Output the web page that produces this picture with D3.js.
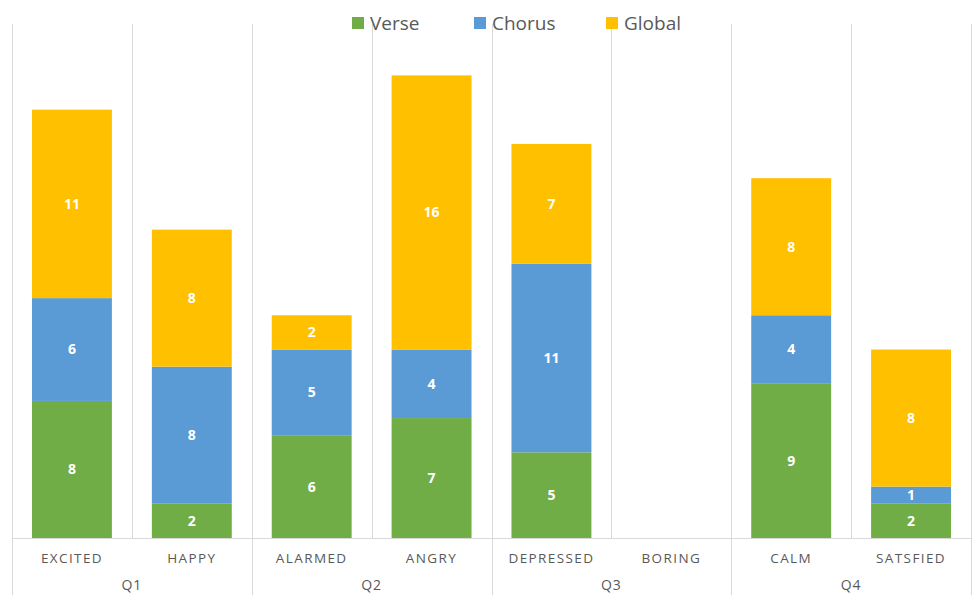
<!DOCTYPE html>
<html>
<head>
<meta charset="utf-8">
<script src="https://cdn.jsdelivr.net/npm/d3@7"></script>
<style>
  html, body { margin: 0; padding: 0; background: #fff; }
  svg { display: block; }
</style>
</head>
<body>
<svg id="chart" width="973" height="595"></svg>
<script>
// Emotion categories, grouped by quadrant
const categories = ["EXCITED", "HAPPY", "ALARMED", "ANGRY", "DEPRESSED", "BORING", "CALM", "SATSFIED"];
const quadrants = ["Q1", "Q1", "Q2", "Q2", "Q3", "Q3", "Q4", "Q4"];
const seriesNames = ["Verse", "Chorus", "Global"];
const verse  = [8, 2, 6, 7, 5, 0, 9, 2];
const chorus = [6, 8, 5, 4, 11, 0, 4, 1];
const globalVals = [11, 8, 2, 16, 7, 0, 8, 8];
const colors = ["#70AD47", "#5B9BD5", "#FFC000"];

const svg = d3.select("#chart");
const plotLeft = 12, plotRight = 971, plotTop = 24, plotBase = 538;

const x = d3.scaleBand().domain(categories).range([plotLeft, plotRight]).padding(0);
const y = d3.scaleLinear().domain([0, 30]).range([plotBase, plotTop]);
const barW = x.bandwidth() * 2 / 3;

const rows = categories.map((c, i) => ({ cat: c, Verse: verse[i], Chorus: chorus[i], Global: globalVals[i] }));
const stacked = d3.stack().keys(seriesNames)(rows);

const grid = "#D9D9D9";
const textCol = "#595959";
const font = "'Open Sans', 'Noto Sans', sans-serif";

// vertical gridlines at category boundaries
const bounds = categories.map(c => x(c)).concat([plotRight]);
svg.append("g").selectAll("line").data(bounds).join("line")
  .attr("x1", d => Math.round(d) + 0.5).attr("x2", d => Math.round(d) + 0.5)
  .attr("y1", plotTop).attr("y2", plotBase)
  .attr("stroke", grid).attr("stroke-width", 1);

// category axis line
svg.append("line")
  .attr("x1", plotLeft).attr("x2", plotRight)
  .attr("y1", plotBase + 0.5).attr("y2", plotBase + 0.5)
  .attr("stroke", grid);

// quadrant separators below the axis
const groupBounds = bounds.filter((d, i) => i % 2 === 0);
svg.append("g").selectAll("line").data(groupBounds).join("line")
  .attr("x1", d => Math.round(d) + 0.5).attr("x2", d => Math.round(d) + 0.5)
  .attr("y1", plotBase).attr("y2", 595)
  .attr("stroke", grid);

// bars
const layers = svg.append("g").selectAll("g").data(stacked).join("g")
  .attr("fill", (d, i) => colors[i]);
layers.selectAll("rect").data(d => d.map(v => ({ v, cat: v.data.cat }))).join("rect")
  .attr("x", d => x(d.cat) + (x.bandwidth() - barW) / 2)
  .attr("width", barW)
  .attr("y", d => y(d.v[1]))
  .attr("height", d => y(d.v[0]) - y(d.v[1]));

// value labels
layers.selectAll("text").data(d => d.map(v => ({ v, cat: v.data.cat, val: v[1] - v[0] })).filter(d => d.val > 0)).join("text")
  .attr("x", d => x(d.cat) + x.bandwidth() / 2)
  .attr("y", d => (y(d.v[0]) + y(d.v[1])) / 2)
  .attr("dy", "0.35em")
  .attr("text-anchor", "middle")
  .attr("fill", "#fff")
  .attr("font-family", font)
  .attr("font-weight", "bold")
  .attr("font-size", 14)
  .text(d => d.val);

// category labels
svg.append("g").selectAll("text").data(categories).join("text")
  .attr("x", d => x(d) + x.bandwidth() / 2)
  .attr("y", 563)
  .attr("text-anchor", "middle")
  .attr("fill", textCol)
  .attr("font-family", font)
  .attr("font-size", 13.5)
  .attr("letter-spacing", "1.4px")
  .text(d => d);

// quadrant labels
const qNames = Array.from(new Set(quadrants));
svg.append("g").selectAll("text").data(qNames).join("text")
  .attr("x", q => {
    const idx = quadrants.map((d, i) => d === q ? i : -1).filter(i => i >= 0);
    return (x(categories[idx[0]]) + x(categories[idx[idx.length - 1]]) + x.bandwidth()) / 2;
  })
  .attr("y", 590)
  .attr("text-anchor", "middle")
  .attr("fill", textCol)
  .attr("font-family", font)
  .attr("font-size", 14)
  .attr("letter-spacing", "1px")
  .text(d => d);

// legend
const legendX = [352, 474, 606];
const leg = svg.append("g").selectAll("g").data(seriesNames).join("g")
  .attr("transform", (d, i) => `translate(${legendX[i]},0)`);
leg.append("rect").attr("x", 0).attr("y", 17).attr("width", 12).attr("height", 12)
  .attr("fill", (d, i) => colors[i]);
leg.append("text").attr("x", 18).attr("y", 30)
  .attr("fill", textCol)
  .attr("font-family", font)
  .attr("font-size", 19)
  .text(d => d);
</script>
</body>
</html>
